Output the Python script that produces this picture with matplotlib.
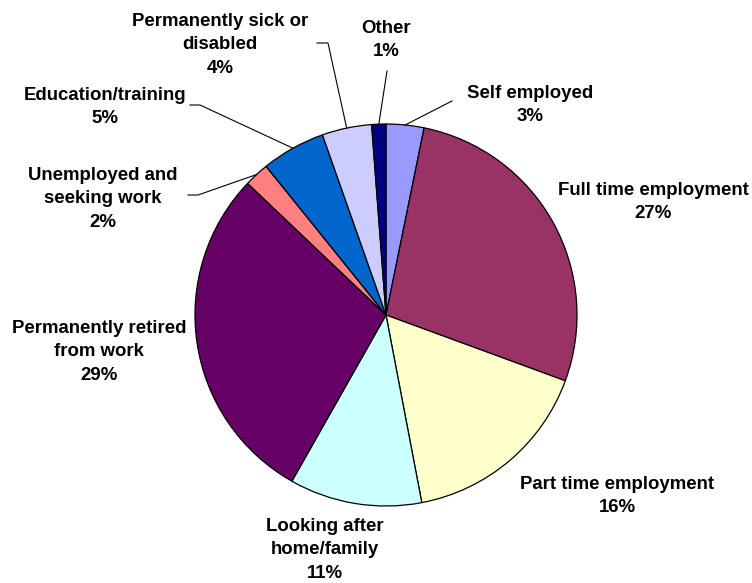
import matplotlib
matplotlib.use("Agg")
import matplotlib.pyplot as plt
import numpy as np

categories = ["Self employed", "Full time employment", "Part time employment",
              "Looking after\nhome/family", "Permanently retired\nfrom work",
              "Unemployed and\nseeking work", "Education/training",
              "Permanently sick or\ndisabled", "Other"]
shares = [3.2, 27.4, 16.4, 11.2, 28.9, 2.1, 5.4, 4.2, 1.2]
colors = ["#9999FF", "#993366", "#FFFFCC", "#CCFFFF", "#660066",
          "#FF8080", "#0066CC", "#CCCCFF", "#000080"]

# label anchors in pixels from top-left: (x centre, cap-centre of first line)
label_xy = [(530, 91), (653, 188), (617, 482), (325, 524), (99, 326),
            (103, 173), (105, 93), (220, 19), (386, 26)]
# leader line bends, pixels from top-left (None = no leader)
leaders = [[(452, 101)], None, None, None, None,
           [(198, 195), (188, 195)], [(200, 105), (190, 105)],
           [(328, 43), (317, 43)], [(387, 71)]]

W, H = 752, 583
CX, CY, R = 386, 315, 191
LINE = 23.7

fig = plt.figure(figsize=(W / 100, H / 100), dpi=100)
ax = fig.add_axes([0, 0, 1, 1])

wedges, _ = ax.pie(shares, colors=colors, startangle=90, counterclock=False,
                   center=(CX, H - CY), radius=R,
                   wedgeprops=dict(edgecolor="black", linewidth=0.9))

ax.set_xlim(0, W)
ax.set_ylim(0, H)
ax.set_aspect("auto")
ax.axis("off")

total = sum(shares)
for w, name, val, (lx, ly), bend in zip(wedges, categories, shares, label_xy, leaders):
    lines = name.split("\n") + ["%d%%" % round(val / total * 100)]
    for i, s in enumerate(lines):
        ax.text(lx, H - (ly + 6.7 + i * LINE), s, ha="center", va="baseline",
                fontsize=13.4, fontweight="bold", family="Liberation Sans")
    if bend:
        mid = np.deg2rad((w.theta1 + w.theta2) / 2)
        xs = [CX + R * np.cos(mid)] + [p[0] for p in bend]
        ys = [H - CY + R * np.sin(mid)] + [H - p[1] for p in bend]
        ax.plot(xs, ys, color="black", lw=0.8)

fig.savefig("out.png", dpi=100)
